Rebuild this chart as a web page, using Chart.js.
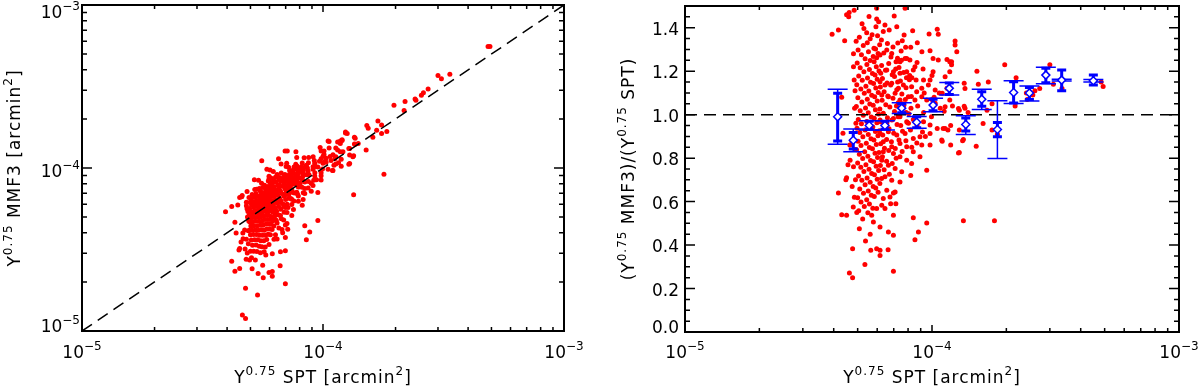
<!DOCTYPE html>
<html>
<head>
<meta charset="utf-8">
<script src="https://cdn.jsdelivr.net/npm/chart.js@4.4.0/dist/chart.umd.min.js"></script>
<style>
  html, body { margin: 0; padding: 0; background: #fff; }
  #wrap { position: relative; width: 1200px; height: 389px; }
  .panel { position: absolute; top: 0; width: 600px; height: 389px; }
</style>
</head>
<body>
<div id="wrap">
  <div class="panel" style="left:0"><canvas id="left" width="600" height="389"></canvas></div>
  <div class="panel" style="left:600px"><canvas id="right" width="600" height="389"></canvas></div>
</div>
<script>
// ---- data ----
// each cluster: [Y0.75 SPT (arcmin^2), ratio MMF3/SPT]
var clusters = [
  // low-SPT fringe
  [3.94e-5,1.37],[4.18e-5,1.39],[4.43e-5,1.34],[4.51e-5,1.46],[4.18e-5,0.64],[4.31e-5,0.54],[4.51e-5,0.71],
  [4.51e-5,0.537],[4.63e-5,0.271],[4.62e-5,1.47],[4.66e-5,0.79],[4.31e-5,1.08],[4.36e-5,0.915],[4.57e-5,0.77],
  [4.48e-5,0.70],[4.65e-5,0.86],[4.60e-5,1.45],
  [4.81e-5,1.28],[4.81e-5,1.22],[4.84e-5,1.16],[4.88e-5,1.11],[4.73e-5,0.88],[4.81e-5,0.76],[4.84e-5,1.48],
  [4.80e-5,0.575],[4.77e-5,0.383],[4.77e-5,0.25],[4.85e-5,0.62],[4.90e-5,0.70],[4.75e-5,0.67],[4.92e-5,0.96],
  [4.86e-5,1.03],[4.90e-5,0.84],
  // dense core
  [5.56e-5,1.452],[5.21e-5,1.418],[6.08e-5,1.427],[5.30e-5,1.396],[5.93e-5,1.405],[6.71e-5,1.389],[5.44e-5,1.377],
  [5.72e-5,1.368],[6.35e-5,1.383],[5.08e-5,1.356],[5.62e-5,1.349],[6.02e-5,1.363],[4.93e-5,1.338],[5.47e-5,1.331],
  [6.24e-5,1.344],[6.60e-5,1.327],[5.27e-5,1.318],[5.82e-5,1.306],[6.14e-5,1.322],[6.95e-5,1.311],[5.02e-5,1.297],
  [5.53e-5,1.289],[5.91e-5,1.302],[6.38e-5,1.284],[7.50e-5,1.293],[5.18e-5,1.276],[5.78e-5,1.268],[6.05e-5,1.281],
  [6.82e-5,1.265],[5.36e-5,1.257],[5.62e-5,1.249],[5.97e-5,1.262],[7.15e-5,1.244],[7.90e-5,1.258],[4.98e-5,1.238],
  [5.45e-5,1.231],[5.83e-5,1.243],[6.25e-5,1.226],[6.68e-5,1.236],[5.12e-5,1.216],[5.58e-5,1.208],[5.95e-5,1.221],
  [6.48e-5,1.204],[7.35e-5,1.217],[5.30e-5,1.197],[5.74e-5,1.189],[6.10e-5,1.201],[6.90e-5,1.184],[7.68e-5,1.194],
  [5.05e-5,1.178],[5.48e-5,1.169],[5.88e-5,1.183],[6.30e-5,1.166],[7.05e-5,1.176],[5.22e-5,1.158],[5.64e-5,1.149],
  [6.00e-5,1.163],[6.58e-5,1.146],[7.45e-5,1.155],[8.10e-5,1.161],[4.96e-5,1.138],[5.40e-5,1.131],[5.80e-5,1.143],
  [6.18e-5,1.127],[6.80e-5,1.136],[5.15e-5,1.118],[5.55e-5,1.109],[5.92e-5,1.123],[6.40e-5,1.106],[7.20e-5,1.115],
  [7.85e-5,1.124],[5.32e-5,1.098],[5.70e-5,1.089],[6.06e-5,1.102],[6.62e-5,1.086],[7.55e-5,1.095],[5.01e-5,1.078],
  [5.47e-5,1.071],[5.86e-5,1.083],[6.28e-5,1.066],[6.95e-5,1.075],[8.25e-5,1.084],[5.20e-5,1.058],[5.60e-5,1.049],
  [6.00e-5,1.063],[6.50e-5,1.046],[7.30e-5,1.055],[4.94e-5,1.038],[5.38e-5,1.031],[5.78e-5,1.043],[6.15e-5,1.026],
  [6.75e-5,1.035],[7.70e-5,1.044],[5.12e-5,1.018],[5.52e-5,1.009],[5.90e-5,1.023],[6.35e-5,1.006],[7.05e-5,1.015],
  [5.27e-5,0.997],[5.68e-5,0.989],[6.08e-5,1.003],[6.60e-5,0.986],[7.40e-5,0.995],[8.05e-5,1.004],[5.03e-5,0.978],
  [5.45e-5,0.969],[5.84e-5,0.983],[6.22e-5,0.966],[6.88e-5,0.975],[5.18e-5,0.958],[5.60e-5,0.949],[5.98e-5,0.963],
  [6.45e-5,0.946],[7.22e-5,0.955],[7.95e-5,0.964],[4.97e-5,0.938],[5.36e-5,0.929],[5.76e-5,0.943],[6.12e-5,0.926],
  [6.70e-5,0.935],[5.10e-5,0.918],[5.52e-5,0.909],[5.90e-5,0.923],[6.32e-5,0.906],[7.00e-5,0.915],[7.60e-5,0.924],
  [5.25e-5,0.898],[5.66e-5,0.889],[6.04e-5,0.903],[6.55e-5,0.886],[5.02e-5,0.878],[5.42e-5,0.869],[5.82e-5,0.883],
  [6.20e-5,0.866],[6.85e-5,0.875],[7.35e-5,0.884],[5.16e-5,0.858],[5.58e-5,0.849],[5.95e-5,0.863],[6.42e-5,0.846],
  [4.95e-5,0.838],[5.34e-5,0.829],[5.74e-5,0.843],[6.10e-5,0.826],[6.68e-5,0.835],[7.10e-5,0.844],[5.08e-5,0.818],
  [5.50e-5,0.809],[5.88e-5,0.823],[6.30e-5,0.806],[5.24e-5,0.798],[5.64e-5,0.789],[6.02e-5,0.803],[6.55e-5,0.786],
  [5.00e-5,0.778],[5.40e-5,0.769],[5.80e-5,0.783],[6.18e-5,0.766],[6.90e-5,0.775],[5.15e-5,0.758],[5.56e-5,0.749],
  [5.94e-5,0.763],[6.40e-5,0.746],[5.30e-5,0.738],[5.70e-5,0.729],[6.08e-5,0.743],[6.72e-5,0.726],[5.04e-5,0.718],
  [5.46e-5,0.709],[5.85e-5,0.723],[6.25e-5,0.706],[5.20e-5,0.698],[5.62e-5,0.689],[6.00e-5,0.703],[5.36e-5,0.678],
  [5.78e-5,0.669],[6.15e-5,0.683],[5.10e-5,0.658],[5.52e-5,0.649],[5.92e-5,0.663],[5.28e-5,0.638],[5.68e-5,0.629],
  [6.05e-5,0.643],[5.00e-5,0.618],[5.44e-5,0.609],[5.84e-5,0.623],[5.16e-5,0.598],[5.58e-5,0.589],[5.32e-5,0.578],
  [5.76e-5,0.569],[5.05e-5,0.558],[5.50e-5,0.549],
  // low-ratio tail and top fringe around the core
  [5.08e-5,0.475],[5.35e-5,0.311],[5.38e-5,0.419],[5.24e-5,0.52],[5.70e-5,0.537],[5.79e-5,0.506],[5.65e-5,0.376],
  [5.62e-5,0.45],[5.97e-5,0.383],[6.16e-5,0.352],[6.16e-5,0.483],[6.26e-5,0.583],[5.97e-5,1.49],[5.97e-5,1.44],
  [4.96e-5,0.55],[5.97e-5,0.568],
  // SPT from 6e-5 to 1e-4
  [7.78e-5,1.49],[7.03e-5,1.454],[6.45e-5,1.413],[7.71e-5,1.367],[8.35e-5,1.386],[8.72e-5,1.331],[9.73e-5,1.371],
  [10.5e-5,1.393],[12.4e-5,1.339],[7.20e-5,1.405],
  [6.16e-5,1.274],[6.56e-5,1.297],[6.87e-5,1.282],[7.25e-5,1.26],[7.42e-5,1.243],[7.78e-5,1.259],[8.14e-5,1.251],
  [8.53e-5,1.220],[9.82e-5,1.294],[10.1e-5,1.259],[10.6e-5,1.251],[11.5e-5,1.254],[12.0e-5,1.243],[11.8e-5,1.197],
  [11.3e-5,1.174],[10.1e-5,1.197],[9.82e-5,1.159],[9.24e-5,1.159],[8.40e-5,1.205],[7.90e-5,1.197],[7.42e-5,1.190],
  [6.98e-5,1.197],[6.56e-5,1.205],[6.20e-5,1.19],
  [6.16e-5,1.151],[6.45e-5,1.136],[6.87e-5,1.144],[7.31e-5,1.121],[7.66e-5,1.136],[8.27e-5,1.128],[8.67e-5,1.105],
  [9.09e-5,1.121],[9.67e-5,1.136],[10.3e-5,1.113],[11.0e-5,1.098],[11.5e-5,1.121],[11.8e-5,1.067],[6.26e-5,1.090],
  [6.66e-5,1.082],[7.09e-5,1.098],[7.42e-5,1.067],[8.02e-5,1.082],[8.53e-5,1.067],[9.09e-5,1.082],[9.52e-5,1.067],
  [10.3e-5,1.052],[10.8e-5,1.03],[11.3e-5,1.036],[12.8e-5,1.028],[13.5e-5,1.039],
  [6.16e-5,0.975],[6.56e-5,0.959],[6.98e-5,0.982],[7.42e-5,0.990],[7.90e-5,0.967],[8.40e-5,0.978],[9.24e-5,0.967],
  [9.82e-5,0.952],[10.5e-5,0.936],[11.3e-5,0.936],[11.9e-5,0.95],[6.16e-5,0.913],[6.66e-5,0.921],[7.20e-5,0.906],
  [7.78e-5,0.913],[8.40e-5,0.890],[8.94e-5,0.898],[9.82e-5,0.913],[11.0e-5,0.878],[11.6e-5,0.929],[12.8e-5,0.824],
  [13.4e-5,0.886],[15.1e-5,0.855],[16.1e-5,0.959],[17.5e-5,0.929],[6.35e-5,0.875],[6.87e-5,0.852],[7.42e-5,0.867],
  [7.90e-5,0.852],[8.40e-5,0.829],[9.09e-5,0.860],[9.82e-5,0.860],[6.35e-5,0.829],[6.98e-5,0.821],[7.42e-5,0.806],
  [7.90e-5,0.790],[8.27e-5,0.775],[8.94e-5,0.806],[9.52e-5,0.744],[6.26e-5,0.790],[6.66e-5,0.767],[7.09e-5,0.752],
  [7.54e-5,0.737],[8.20e-5,0.72],[6.45e-5,0.714],[6.87e-5,0.698],[7.42e-5,0.690],[6.56e-5,0.652],[7.09e-5,0.644],
  [6.35e-5,0.614],[6.76e-5,0.621],
  [6.98e-5,0.64],[6.80e-5,0.59],[7.14e-5,0.59],[6.45e-5,0.568],[6.98e-5,0.537],[8.40e-5,0.526],[9.52e-5,0.501],
  [13.4e-5,0.512],[17.9e-5,0.512],[8.81e-5,0.46],[6.66e-5,0.46],[6.98e-5,0.445],[8.53e-5,0.425],[6.16e-5,0.376],
  [6.64e-5,0.379],[6.98e-5,0.279],
  [7.27e-5,1.33],[7.13e-5,1.21],[7.26e-5,1.15],[7.18e-5,1.04],[7.29e-5,0.99],[7.16e-5,0.80],
  [7.58e-5,1.34],[7.52e-5,1.25],[7.61e-5,1.05],[7.47e-5,0.95],[7.57e-5,0.83],
  [7.82e-5,1.31],[7.88e-5,1.17],[7.80e-5,1.07],[7.86e-5,1.01],[7.84e-5,0.88],
  [8.20e-5,1.31],[8.12e-5,1.18],[8.22e-5,1.03],[8.18e-5,0.93],[8.28e-5,0.85],
  [8.70e-5,1.24],[8.62e-5,1.16],[8.75e-5,1.04],[8.70e-5,0.95],[8.68e-5,0.87],
  [9.20e-5,1.21],[9.30e-5,1.10],[9.25e-5,1.01],[9.15e-5,0.92],
  [10.0e-5,1.18],[10.2e-5,1.08],[9.95e-5,0.99],
  // SPT from 1e-4 up
  [11.2e-5,1.016],[11.1e-5,0.936],[10.95e-5,0.883],[11.8e-5,1.243],[13.5e-5,1.144],[12.9e-5,0.826],[12.6e-5,1.29],
  [13.6e-5,1.12],[10.6e-5,1.37],[12.1e-5,1.04],[12.9e-5,0.93],[10.7e-5,1.10],[9.1e-5,1.29],[13.3e-5,0.88],
  [14.0e-5,1.01],[11.9e-5,0.86],[10.0e-5,1.07],[8.29e-5,1.17],[9.4e-5,0.90],[8.03e-5,0.96],[12.4e-5,1.32],
  [12.0e-5,1.23],[13.6e-5,1.03],[12.9e-5,1.02],
  [15.2e-5,1.20],[15.4e-5,1.14],[16.9e-5,1.15],[17.5e-5,1.05],[16.7e-5,1.02],[18.4e-5,0.91],[19.7e-5,1.23],
  [21.9e-5,1.17],[21.7e-5,1.04],[24.1e-5,1.10],[24.3e-5,1.07],[25.6e-5,1.09],[26.1e-5,1.11],[27.3e-5,1.12],
  [30.0e-5,1.23],[31.0e-5,1.14],[33.6e-5,1.12],[48.4e-5,1.15],[49.3e-5,1.13],
  // above the ratio range of the right panel, only seen on the left
  [5.57e-5,1.99],[6.96e-5,1.83],[7.11e-5,1.79],[6.54e-5,1.74],[7.72e-5,1.63],[5.19e-5,1.63],[6.03e-5,1.61],
  [6.22e-5,1.53],[7.07e-5,1.51],[5.40e-5,1.56],[5.85e-5,1.68],[6.70e-5,1.58]
];

// binned means, two error bars each
var binSPT     = [4.15e-5, 4.80e-5, 5.57e-5, 6.45e-5, 7.54e-5, 8.67e-5, 1.01e-4, 1.175e-4, 1.37e-4, 1.59e-4, 1.84e-4, 2.14e-4, 2.48e-4, 2.89e-4, 3.35e-4, 4.50e-4];
var binRatio   = [0.990, 0.882, 0.950, 0.950, 1.030, 0.965, 1.044, 1.121, 0.955, 1.071, 0.932, 1.102, 1.100, 1.182, 1.159, 1.156];
var binThickLo = [0.879, 0.842, 0.933, 0.933, 1.009, 0.940, 1.018, 1.093, 0.925, 1.039, 0.898, 1.054, 1.070, 1.147, 1.110, 1.136];
var binThickHi = [1.098, 0.918, 0.970, 0.970, 1.050, 0.990, 1.071, 1.146, 0.985, 1.105, 0.964, 1.151, 1.125, 1.213, 1.205, 1.182];
var binThinLo  = [0.864, 0.829, 0.929, 0.929, 1.005, 0.938, 1.013, 1.090, 0.909, 1.024, 0.798, 1.051, 1.063, 1.142, 1.155, 1.150];
var binThinHi  = [1.117, 0.934, 0.972, 0.972, 1.055, 0.992, 1.075, 1.148, 0.995, 1.117, 1.064, 1.156, 1.132, 1.218, 1.163, 1.162];

var logRange = [1e-5, 1e-3];
var decades = [1e-5, 1e-4, 1e-3];
var minorSteps = [2, 3, 4, 5, 6, 7, 8, 9];
var ratioRange = [0, 1.5];
var ratioLabels = [0.0, 0.2, 0.4, 0.6, 0.8, 1.0, 1.2, 1.4];

var RED = '#ff0000';
var BLUE = '#0000ff';
var FONT = '"DejaVu Sans", sans-serif';
var FS = 17, SUP = 12;

function drawRich(ctx, parts, x, y, align, spaced) {
  ctx.letterSpacing = spaced ? '1px' : '0px';
  ctx.textAlign = 'left';
  ctx.textBaseline = 'alphabetic';
  var w = 0;
  parts.forEach(function(p) {
    ctx.font = (p[1] ? SUP : FS) + 'px ' + FONT;
    w += ctx.measureText(p[0]).width;
  });
  var cx = align === 'center' ? x - w / 2 : (align === 'right' ? x - w : x);
  parts.forEach(function(p) {
    ctx.font = (p[1] ? SUP : FS) + 'px ' + FONT;
    ctx.fillText(p[0], cx, p[1] ? y - 8 : y);
    cx += ctx.measureText(p[0]).width;
  });
}

function powLabel(v) {
  var e = Math.round(Math.log10(v));
  return [['10'], ['\u2212' + Math.abs(e), true]];
}

function logTicks() {
  var t = [];
  decades.forEach(function(d, i) {
    t.push({ v: d, major: true });
    if (i < decades.length - 1) minorSteps.forEach(function(m) { t.push({ v: d * m, major: false }); });
  });
  return t;
}

function ratioTicks() {
  var t = [];
  for (var i = 0; i <= 30; i++) t.push({ v: i * 0.05, major: i % 4 === 0 });
  return t;
}

// IDL-like box: inward ticks on all four sides, labels, titles
function axesPlugin(o) {
  return {
    id: 'idlAxes',
    afterDraw: function(chart) {
      var ctx = chart.ctx, a = chart.chartArea;
      var xs = chart.scales.x, ys = chart.scales.y;
      ctx.save();
      ctx.strokeStyle = '#000';
      ctx.fillStyle = '#000';
      ctx.lineWidth = 1.5;
      ctx.beginPath();
      o.xTicks.forEach(function(t) {
        var p = xs.getPixelForValue(t.v), len = t.major ? 7 : 4;
        ctx.moveTo(p, a.bottom); ctx.lineTo(p, a.bottom - len);
        ctx.moveTo(p, a.top); ctx.lineTo(p, a.top + len);
      });
      o.yTicks.forEach(function(t) {
        var p = ys.getPixelForValue(t.v), len = t.major ? 10 : 5;
        ctx.moveTo(a.left, p); ctx.lineTo(a.left + len, p);
        ctx.moveTo(a.right, p); ctx.lineTo(a.right - len, p);
      });
      ctx.stroke();
      ctx.lineWidth = 2;
      ctx.strokeRect(a.left, a.top, a.right - a.left, a.bottom - a.top);

      decades.forEach(function(d) {
        drawRich(ctx, powLabel(d), xs.getPixelForValue(d), 358, 'center');
      });
      o.yLabels.forEach(function(v) {
        var p = ys.getPixelForValue(v);
        var base = Math.max(a.top + 12.5, Math.min(p + o.yShift, a.bottom + 1));
        drawRich(ctx, o.yFormat(v), a.left - o.yGap, base, 'right');
      });
      drawRich(ctx, o.xTitle, (a.left + a.right) / 2, 383, 'center', true);
      ctx.save();
      ctx.translate(o.yTitleX, (a.top + a.bottom) / 2);
      ctx.rotate(-Math.PI / 2);
      drawRich(ctx, o.yTitle, 0, 0, 'center', true);
      ctx.restore();
      ctx.restore();
    }
  };
}

function capBar(ctx, x, y1, y2, lw, half) {
  ctx.lineWidth = lw;
  ctx.beginPath();
  ctx.moveTo(x, y1); ctx.lineTo(x, y2);
  ctx.moveTo(x - half, y1); ctx.lineTo(x + half, y1);
  ctx.moveTo(x - half, y2); ctx.lineTo(x + half, y2);
  ctx.stroke();
}

// error bars go above the dashed line (dataset 1) and below the diamonds (dataset 0)
var errorBarPlugin = {
  id: 'errorBars',
  afterDatasetDraw: function(chart, args) {
    if (args.index !== 1) return;
    var ctx = chart.ctx, xs = chart.scales.x, ys = chart.scales.y;
    ctx.save();
    ctx.strokeStyle = BLUE;
    binSPT.forEach(function(v, i) {
      var px = xs.getPixelForValue(v);
      capBar(ctx, px, ys.getPixelForValue(binThinLo[i]), ys.getPixelForValue(binThinHi[i]), 1.5, 10);
      capBar(ctx, px, ys.getPixelForValue(binThickLo[i]), ys.getPixelForValue(binThickHi[i]), 3, 4.5);
    });
    ctx.restore();
  }
};

var baseOptions = function(pad, yScale) {
  return {
    responsive: false,
    animation: false,
    devicePixelRatio: 1,
    events: [],
    layout: { padding: pad },
    plugins: { legend: { display: false }, tooltip: { enabled: false } },
    scales: {
      x: { type: 'logarithmic', min: logRange[0], max: logRange[1], display: false },
      y: yScale
    }
  };
};

new Chart(document.getElementById('left'), {
  type: 'scatter',
  data: {
    datasets: [
      {
        data: [{ x: logRange[0], y: logRange[0] }, { x: logRange[1], y: logRange[1] }],
        showLine: true, borderColor: '#000', borderWidth: 1.5, borderDash: [12, 7], pointRadius: 0
      },
      {
        data: clusters.map(function(c) { return { x: c[0], y: c[0] * c[1] }; }),
        pointRadius: 2.5, pointBackgroundColor: RED, pointBorderWidth: 0, clip: 0
      }
    ]
  },
  options: baseOptions({ left: 82, right: 36, top: 5, bottom: 58 },
    { type: 'logarithmic', min: logRange[0], max: logRange[1], display: false }),
  plugins: [axesPlugin({
    xTicks: logTicks(), yTicks: logTicks(),
    yLabels: decades, yFormat: powLabel, yShift: 8.5, yGap: 2,
    xTitle: [['Y'], ['0.75', true], [' SPT [arcmin'], ['2', true], [']']],
    yTitle: [['Y'], ['0.75', true], [' MMF3 [arcmin'], ['2', true], [']']],
    yTitleX: 20
  })]
});

new Chart(document.getElementById('right'), {
  type: 'scatter',
  data: {
    datasets: [
      {
        data: binSPT.map(function(v, i) { return { x: v, y: binRatio[i] }; }),
        pointStyle: 'rectRot', pointRadius: 4, pointBorderWidth: 1.5,
        pointBorderColor: BLUE, pointBackgroundColor: '#fff'
      },
      {
        data: [{ x: logRange[0], y: 1 }, { x: logRange[1], y: 1 }],
        showLine: true, borderColor: '#000', borderWidth: 1.5, borderDash: [12, 7], pointRadius: 0
      },
      {
        data: clusters.map(function(c) { return { x: c[0], y: c[1] }; }),
        pointRadius: 2.5, pointBackgroundColor: RED, pointBorderWidth: 0, clip: 0
      }
    ]
  },
  options: baseOptions({ left: 85, right: 21, top: 6, bottom: 57 },
    { type: 'linear', min: ratioRange[0], max: ratioRange[1], display: false }),
  plugins: [errorBarPlugin, axesPlugin({
    xTicks: logTicks(), yTicks: ratioTicks(),
    yLabels: ratioLabels, yFormat: function(v) { return [[v.toFixed(1)]]; }, yShift: 7, yGap: 6,
    xTitle: [['Y'], ['0.75', true], [' SPT [arcmin'], ['2', true], [']']],
    yTitle: [['(Y'], ['0.75', true], [' MMF3)/(Y'], ['0.75', true], [' SPT)']],
    yTitleX: 34
  })]
});
</script>
</body>
</html>
